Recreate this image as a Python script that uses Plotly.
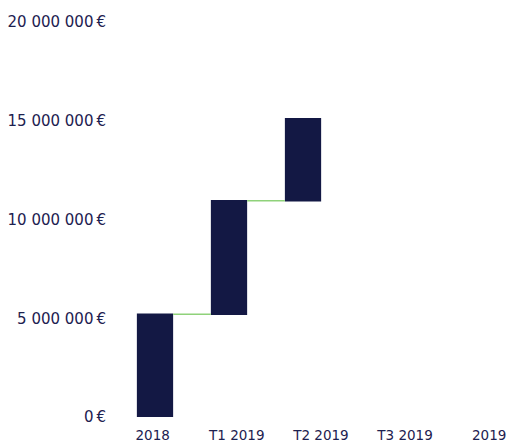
import plotly.graph_objects as go

categories = ["2018", "T1 2019", "T2 2019", "T3 2019", "2019"]
bar_categories = ["2018", "T1 2019", "T2 2019"]
values = [5_200_000, 5_750_000, 4_150_000]
y_tick_values = [0, 5_000_000, 10_000_000, 15_000_000, 20_000_000]
y_tick_labels = ["0\u202f€", "5 000 000\u202f€", "10 000 000\u202f€", "15 000 000\u202f€", "20 000 000\u202f€"]

navy = "#131844"
text_color = "#1d2150"
green = "#8fd27a"
font_family = "DejaVu Sans"

fig = go.Figure()
fig.add_trace(go.Waterfall(
    x=bar_categories,
    y=values,
    measure=["relative"] * len(values),
    increasing=dict(marker=dict(color=navy)),
    decreasing=dict(marker=dict(color=navy)),
    totals=dict(marker=dict(color=navy)),
    connector=dict(line=dict(color=green, width=1.5)),
    width=0.49,
    hoverinfo="skip",
    showlegend=False,
))
# invisible helper trace for the category label axis
fig.add_trace(go.Scatter(
    x=categories, y=[None] * len(categories), xaxis="x2",
    mode="markers", showlegend=False, hoverinfo="skip",
))

fig.update_layout(
    width=511, height=441,
    margin=dict(l=118, r=5, t=22, b=24),
    paper_bgcolor="white", plot_bgcolor="white",
    font=dict(family=font_family, size=15, color=text_color),
    xaxis=dict(
        type="category", categoryorder="array", categoryarray=categories,
        range=[-0.5, 4.743], showgrid=False, zeroline=False, showline=False,
        showticklabels=False, ticks="", automargin=False,
    ),
    xaxis2=dict(
        type="category", categoryorder="array", categoryarray=categories,
        range=[-0.412, 4.2], overlaying="x", anchor="y", side="bottom",
        showgrid=False, zeroline=False, showline=False, ticks="",
        ticklabelstandoff=8, automargin=False, tickfont=dict(size=13.5),
    ),
    yaxis=dict(
        range=[0, 20_000_000], tickvals=y_tick_values, ticktext=y_tick_labels,
        showgrid=False, zeroline=False, showline=False, ticks="",
        ticklabelstandoff=11, automargin=False,
    ),
)

fig.write_html(
    "out.html",
    config={"displayModeBar": False},
    post_script="document.body.style.margin='0';",
)
